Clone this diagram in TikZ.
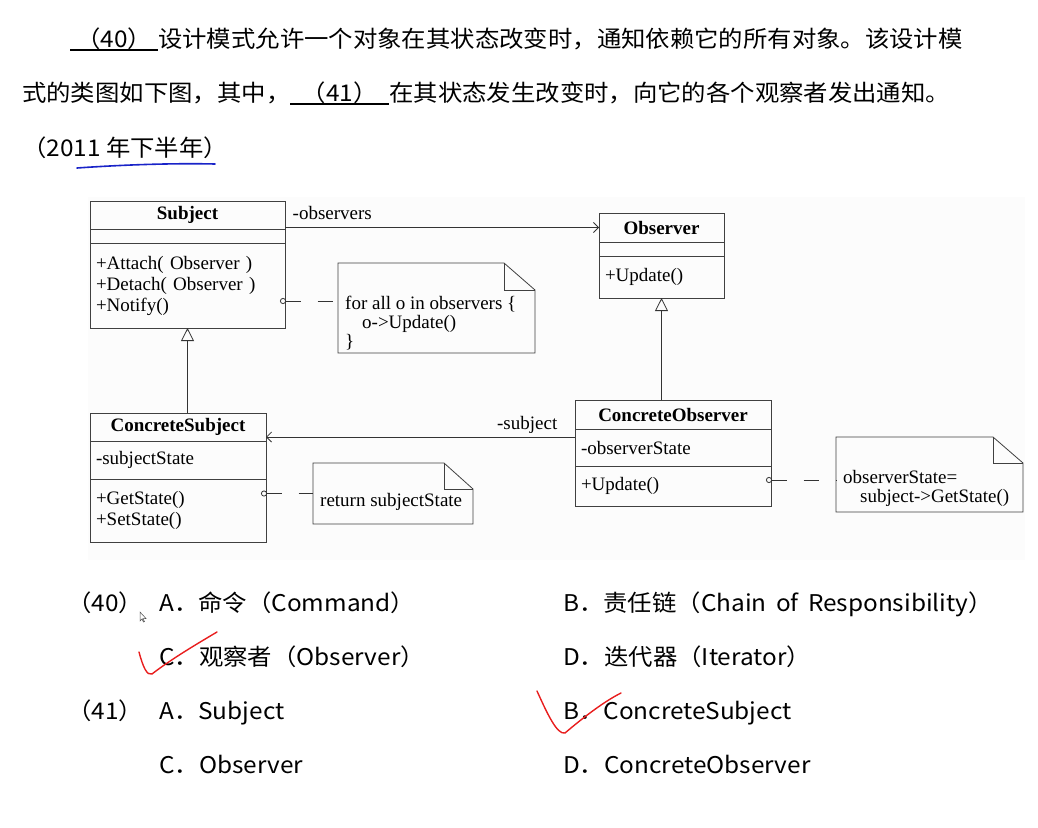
\documentclass[tikz,border=0pt]{standalone}
\usepackage{fontspec}
\setmainfont{Liberation Serif}
\newfontfamily\cjk[FakeStretch=1.06]{Noto Sans CJK SC}
\usetikzlibrary{positioning,arrows.meta}

\definecolor{penblue}{RGB}{25,35,200}
\definecolor{penred}{RGB}{232,30,30}

% underlined blank of a question
\newcommand\answerblank[2]{\rlap{\rule[-4pt]{#1}{1.8pt}}\makebox[#1]{#2}}

% note outline with folded corner
\newcommand\drawnote[3]{%
  \draw[noteframe] (#1.north west) -- ([xshift=-#2]#1.north east) -- ([yshift=-#3]#1.north east) -- (#1.south east) -- (#1.south west) -- cycle;
  \draw[noteframe] ([xshift=-#2]#1.north east) |- ([yshift=-#3]#1.north east);}

\begin{document}
\begin{tikzpicture}[x=1pt, y=-1pt,
    qtext/.style={font=\cjk\fontsize{23}{28}\selectfont, inner sep=0pt, anchor=base west},
    uml/.style={draw=black!75, line width=0.8pt, inner sep=0pt, outer sep=0pt, font=\fontsize{19}{21}\selectfont},
    classtitle/.style={uml, text width=#1, align=center, font=\fontsize{19}{21}\selectfont\bfseries},
    compart/.style={uml, text width=#1, inner xsep=6pt, align=left},
    umlnote/.style={inner sep=0pt, outer sep=0pt},
    noteframe/.style={draw=black!75, line width=0.8pt},
    notetext/.style={inner sep=0pt, align=left, font=\fontsize{19}{19}\selectfont},
    assoc/.style={draw=black!80, line width=0.8pt, -{Straight Barb[length=5pt,width=10pt]}},
    inherit/.style={draw=black!80, line width=0.8pt, -{Triangle[open,length=13pt,width=13pt]}},
    noteline/.style={draw=black!80, line width=0.8pt, dash pattern=on 15pt off 17pt,
        {Circle[open,length=6pt,width=6pt]}-, shorten <=-5pt},
    check/.style={draw=penred, line width=1.4pt, line cap=round, line join=round}]

\useasboundingbox (0,0) rectangle (1038,827);

% Question

\node[qtext] (q1) at (70,47) {\answerblank{88pt}{（40）}设计模式允许一个对象在其状态改变时，通知依赖它的所有对象。该设计模};
\node[qtext] (q2) at (22,101) {式的类图如下图，其中，\answerblank{99pt}{（41）}在其状态发生改变时，向它的各个观察者发出通知。};
\node[qtext] (q3) at (22,156) {（2011 年下半年）};
\draw[penblue, line width=1.6pt, line cap=round] (77,168) .. controls (120,165) and (170,163) .. (215,164);

% Diagram

\fill[black!1] (88,197) rectangle (1025,560);

\node[classtitle=195pt, minimum height=28pt] (subj-t) at (187.5,215) {Subject};
\node[compart=183pt, minimum height=14pt, below=0pt of subj-t] (subj-a) {};
\node[compart=183pt, minimum height=85pt, below=0pt of subj-a] (subj-o) {+Attach( Observer )\\+Detach( Observer )\\+Notify()};

\node[classtitle=125pt, minimum height=29pt] (obs-t) at (661.5,227.5) {Observer};
\node[compart=113pt, minimum height=14pt, below=0pt of obs-t] (obs-a) {};
\node[compart=113pt, minimum height=42pt, below=0pt of obs-a] (obs-o) {+Update()};

\node[classtitle=176pt, minimum height=28pt] (csubj-t) at (178,427) {ConcreteSubject};
\node[compart=164pt, minimum height=38pt, below=0pt of csubj-t] (csubj-a) {-subjectState};
\node[compart=164pt, minimum height=63pt, below=0pt of csubj-a] (csubj-o) {+GetState()\\+SetState()};

\node[classtitle=196pt, minimum height=29pt] (cobs-t) at (673,414.5) {ConcreteObserver};
\node[compart=184pt, minimum height=37pt, below=0pt of cobs-t] (cobs-a) {-observerState};
\node[compart=184pt, minimum height=40pt, below=0pt of cobs-a] (cobs-o) {+Update()};

% Notes

\node[umlnote, minimum width=197pt, minimum height=90pt] (note1) at (436.5,308) {};
\node[notetext, anchor=west] (note1-txt) at ([xshift=7pt,yshift=-15pt]note1.west) {for all o in observers \{\\\hspace*{17pt}o->Update()\\\}};
\drawnote{note1}{31pt}{27pt}

\node[umlnote, minimum width=160pt, minimum height=61pt] (note2) at (393,493.5) {};
\node[notetext, anchor=west] (note2-txt) at ([xshift=7pt,yshift=-8pt]note2.west) {return subjectState};
\drawnote{note2}{29pt}{26pt}

\node[umlnote, minimum width=187pt, minimum height=75pt] (note3) at (929.5,474.5) {};
\node[notetext, anchor=west] (note3-txt) at ([xshift=7pt,yshift=-13.5pt]note3.west) {observerState=\\\hspace*{17pt}subject->GetState()};
\drawnote{note3}{30pt}{26pt}

% Associations

\draw[assoc] (subj-t.east |- obs-t.west) -- (obs-t.west)
    node[at start, anchor=base west, xshift=4pt, yshift=8pt, font=\fontsize{19}{21}\selectfont] {-observers};
\coordinate (csubj-in) at ([yshift=-10pt]csubj-t.east);
\draw[assoc] (cobs-a.west |- csubj-in) -- (csubj-in)
    node[at start, anchor=base east, xshift=-14pt, yshift=8pt, font=\fontsize{19}{21}\selectfont] {-subject};

% Generalizations

\draw[inherit] (subj-o.south |- csubj-t.north) -- (subj-o.south);
\draw[inherit] (obs-o.south |- cobs-t.north) -- (obs-o.south);

% Note links

\coordinate (note1-in) at ([yshift=7pt]note1.west);
\draw[noteline] (subj-o.east |- note1-in) -- (note1-in);
\draw[noteline] (csubj-o.east |- note2.west) -- (note2.west);
\coordinate (note3-in) at ([yshift=-5.5pt]note3.west);
\draw[noteline] (cobs-o.east |- note3-in) -- (note3-in);

% Options

\node[qtext] (o40) at (67,611) {（40）};
\node[qtext] (o40a) at (159,611) {A．命令（Command）};
\node[qtext] (o40b) at (563,611) {B．责任链（Chain\, of\, Responsibility）};
\node[qtext] (o40c) at (159,665) {C．观察者（Observer）};
\node[qtext] (o40d) at (563,665) {D．迭代器（Iterator）};
\node[qtext] (o41) at (67,719) {（41）};
\node[qtext] (o41a) at (159,719) {A．Subject};
\node[qtext] (o41b) at (563,719) {B．ConcreteSubject};
\node[qtext] (o41c) at (159,773) {C．Observer};
\node[qtext] (o41d) at (563,773) {D．ConcreteObserver};

% Marks

\draw[black!70, fill=white, line width=0.5pt] (140,612) -- (140,621) -- (142,619) -- (143.5,622) -- (144.5,621.6) -- (143,618.6) -- (146,618.5) -- cycle;
\draw[check] (139,652) .. controls (143,667) and (147,676) .. (152,674) .. controls (170,660) and (195,645) .. (217,632);
\draw[check] (537,691) .. controls (547,713) and (557,735) .. (565,733) .. controls (585,716) and (605,701) .. (621,693);

\end{tikzpicture}
\end{document}
